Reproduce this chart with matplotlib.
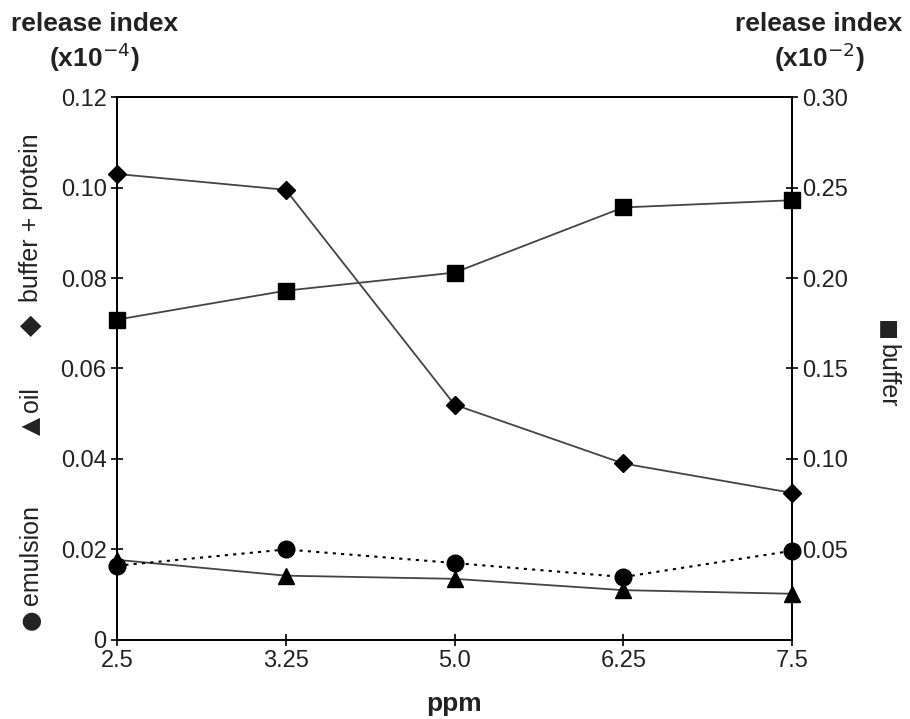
import numpy as np
import matplotlib.pyplot as plt

plt.rcParams['font.family'] = ['Liberation Sans', 'DejaVu Sans']

ppm = ["2.5", "3.25", "5.0", "6.25", "7.5"]
buffer_protein = [0.103, 0.0995, 0.052, 0.039, 0.0325]
oil = [0.0177, 0.0142, 0.0135, 0.0110, 0.0102]
emulsion = [0.0164, 0.0200, 0.0170, 0.0139, 0.0197]
buffer = [0.177, 0.193, 0.203, 0.239, 0.243]

left_ticks = [0, 0.02, 0.04, 0.06, 0.08, 0.10, 0.12]
left_labels = ["0", "0.02", "0.04", "0.06", "0.08", "0.10", "0.12"]
right_ticks = [0.05, 0.10, 0.15, 0.20, 0.25, 0.30]
right_labels = ["0.05", "0.10", "0.15", "0.20", "0.25", "0.30"]

x = np.arange(len(ppm))

fig = plt.figure(figsize=(9.1, 7.19), dpi=100)
ax = fig.add_axes([0.1286, 0.110, 0.7418, 0.755])
ax2 = ax.twinx()

line_col = "#444444"
ax.plot(x, buffer_protein, color=line_col, lw=1.3, marker="D", ms=9,
        mfc="black", mec="black", clip_on=False, zorder=3)
ax.plot(x, oil, color=line_col, lw=1.3, marker="^", ms=11,
        mfc="black", mec="black", clip_on=False, zorder=3)
ax.plot(x, emulsion, color="black", lw=1.5, ls=(0, (1.5, 2.5)), marker="o", ms=12,
        mfc="black", mec="black", clip_on=False, zorder=3)
ax2.plot(x, buffer, color=line_col, lw=1.3, marker="s", ms=12,
         mfc="black", mec="black", clip_on=False, zorder=3)

ax.set_xlim(0, len(ppm) - 1)
ax.set_ylim(0, 0.12)
ax2.set_ylim(0, 0.30)

ax.set_xticks(x)
ax.set_xticklabels(ppm)
ax.set_yticks(left_ticks)
ax.set_yticklabels(left_labels)
ax2.set_yticks(right_ticks)
ax2.set_yticklabels(right_labels)

for a in (ax, ax2):
    a.tick_params(direction="inout", length=8, width=1.2, labelsize=17,
                  colors="black", labelcolor="#222222")
    for s in a.spines.values():
        s.set_linewidth(1.3)

ax.set_xlabel("ppm", fontsize=19, fontweight="bold", color="#222222", labelpad=14)

title_kw = dict(ha="center", va="center", fontsize=19, fontweight="bold", color="#222222")
fig.text(0.104, 0.967, "release index", **title_kw)
fig.text(0.104, 0.920, "(x10$^{-4}$)", **title_kw)
fig.text(0.900, 0.967, "release index", **title_kw)
fig.text(0.900, 0.920, "(x10$^{-2}$)", **title_kw)

# composite axis labels with marker glyphs
lab_kw = dict(ha="center", va="center", color="#222222")
glyph = ["DejaVu Sans"]
fig.text(0.034, 0.138, "\u25cf", rotation=90, fontsize=17, family=glyph, **lab_kw)
fig.text(0.034, 0.228, "emulsion", rotation=90, fontsize=18, **lab_kw)
fig.text(0.034, 0.408, "\u25b2", rotation=90, fontsize=17, family=glyph, **lab_kw)
fig.text(0.034, 0.444, "oil", rotation=90, fontsize=18, **lab_kw)
fig.text(0.034, 0.548, "\u25c6", rotation=90, fontsize=20, family=glyph, **lab_kw)
fig.text(0.034, 0.697, "buffer + protein", rotation=90, fontsize=18, **lab_kw)
fig.text(0.974, 0.541, "\u25a0", rotation=270, fontsize=16, family=glyph, **lab_kw)
fig.text(0.975, 0.478, "buffer", rotation=270, fontsize=18, **lab_kw)

fig.savefig("out.png", dpi=100)
